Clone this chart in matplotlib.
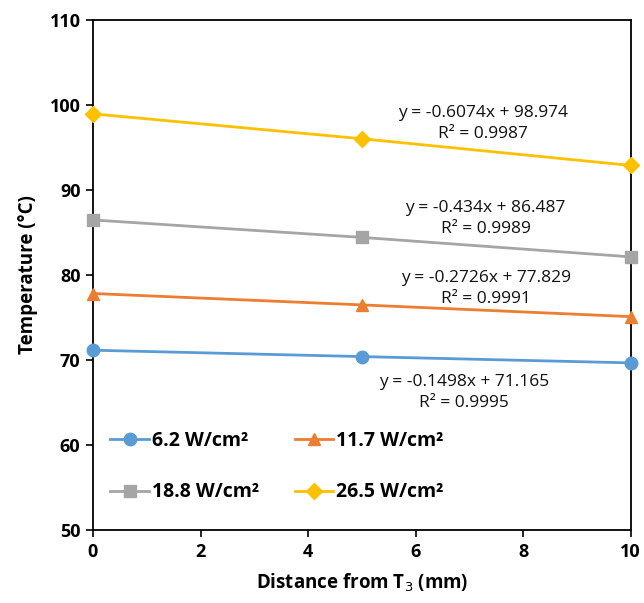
import numpy as np
import matplotlib.pyplot as plt

plt.rcParams['font.family'] = ['Open Sans', 'DejaVu Sans']

distance = [0, 5, 10]
labels = ['6.2 W/cm²', '11.7 W/cm²', '18.8 W/cm²', '26.5 W/cm²']
temps = [
    [71.15, 70.40, 69.66],
    [77.82, 76.48, 75.10],
    [86.47, 84.42, 82.13],
    [98.95, 96.02, 92.88],
]
fit_text = [
    'y = -0.1498x + 71.165\nR² = 0.9995',
    'y = -0.2726x + 77.829\nR² = 0.9991',
    'y = -0.434x + 86.487\nR² = 0.9989',
    'y = -0.6074x + 98.974\nR² = 0.9987',
]
text_pos = [(6.9, 66.2), (7.3, 78.45), (7.3, 86.65), (7.25, 97.85)]
colors = ['#5B9BD5', '#ED7D31', '#A5A5A5', '#FFC000']
markers = ['o', '^', 's', 'D']
msizes = [9, 9, 8.5, 8]

fig = plt.figure(figsize=(6.44, 6.03), dpi=100)
ax = fig.add_axes([0.1444, 0.121, 0.835, 0.846])

lines = []
for i in range(4):
    ln, = ax.plot(distance, temps[i], color=colors[i], marker=markers[i], ms=msizes[i],
                  lw=2, label=labels[i], clip_on=False, zorder=3)
    lines.append(ln)
    ax.text(text_pos[i][0], text_pos[i][1], fit_text[i], ha='center', va='center',
            fontsize=12.5, linespacing=1.4, color='#111111')

ax.set_xlim(0, 10)
ax.set_ylim(50, 110)
ax.set_xticks(np.arange(0, 11, 2))
ax.set_yticks(np.arange(50, 111, 10))
ax.tick_params(direction='out', length=5, width=1.2, labelsize=13, pad=4)
for lab in ax.get_xticklabels() + ax.get_yticklabels():
    lab.set_fontweight('bold')
for s in ax.spines.values():
    s.set_linewidth(1.3)

ax.set_xlabel('Distance from T$_3$ (mm)', fontsize=13.5, fontweight='bold', labelpad=8)
ax.set_ylabel('Temperature (°C)', fontsize=13.5, fontweight='bold', labelpad=8)

# row-major legend order like the reference
order = [0, 2, 1, 3]
ax.legend([lines[k] for k in order], [labels[k] for k in order],
          loc='lower left', bbox_to_anchor=(0.0, 0.02), ncol=2, frameon=False,
          labelspacing=1.6, columnspacing=1.8, handlelength=2.0, handletextpad=0.15,
          prop={'size': 14, 'weight': 'bold'})

fig.savefig('out.png', dpi=100)
